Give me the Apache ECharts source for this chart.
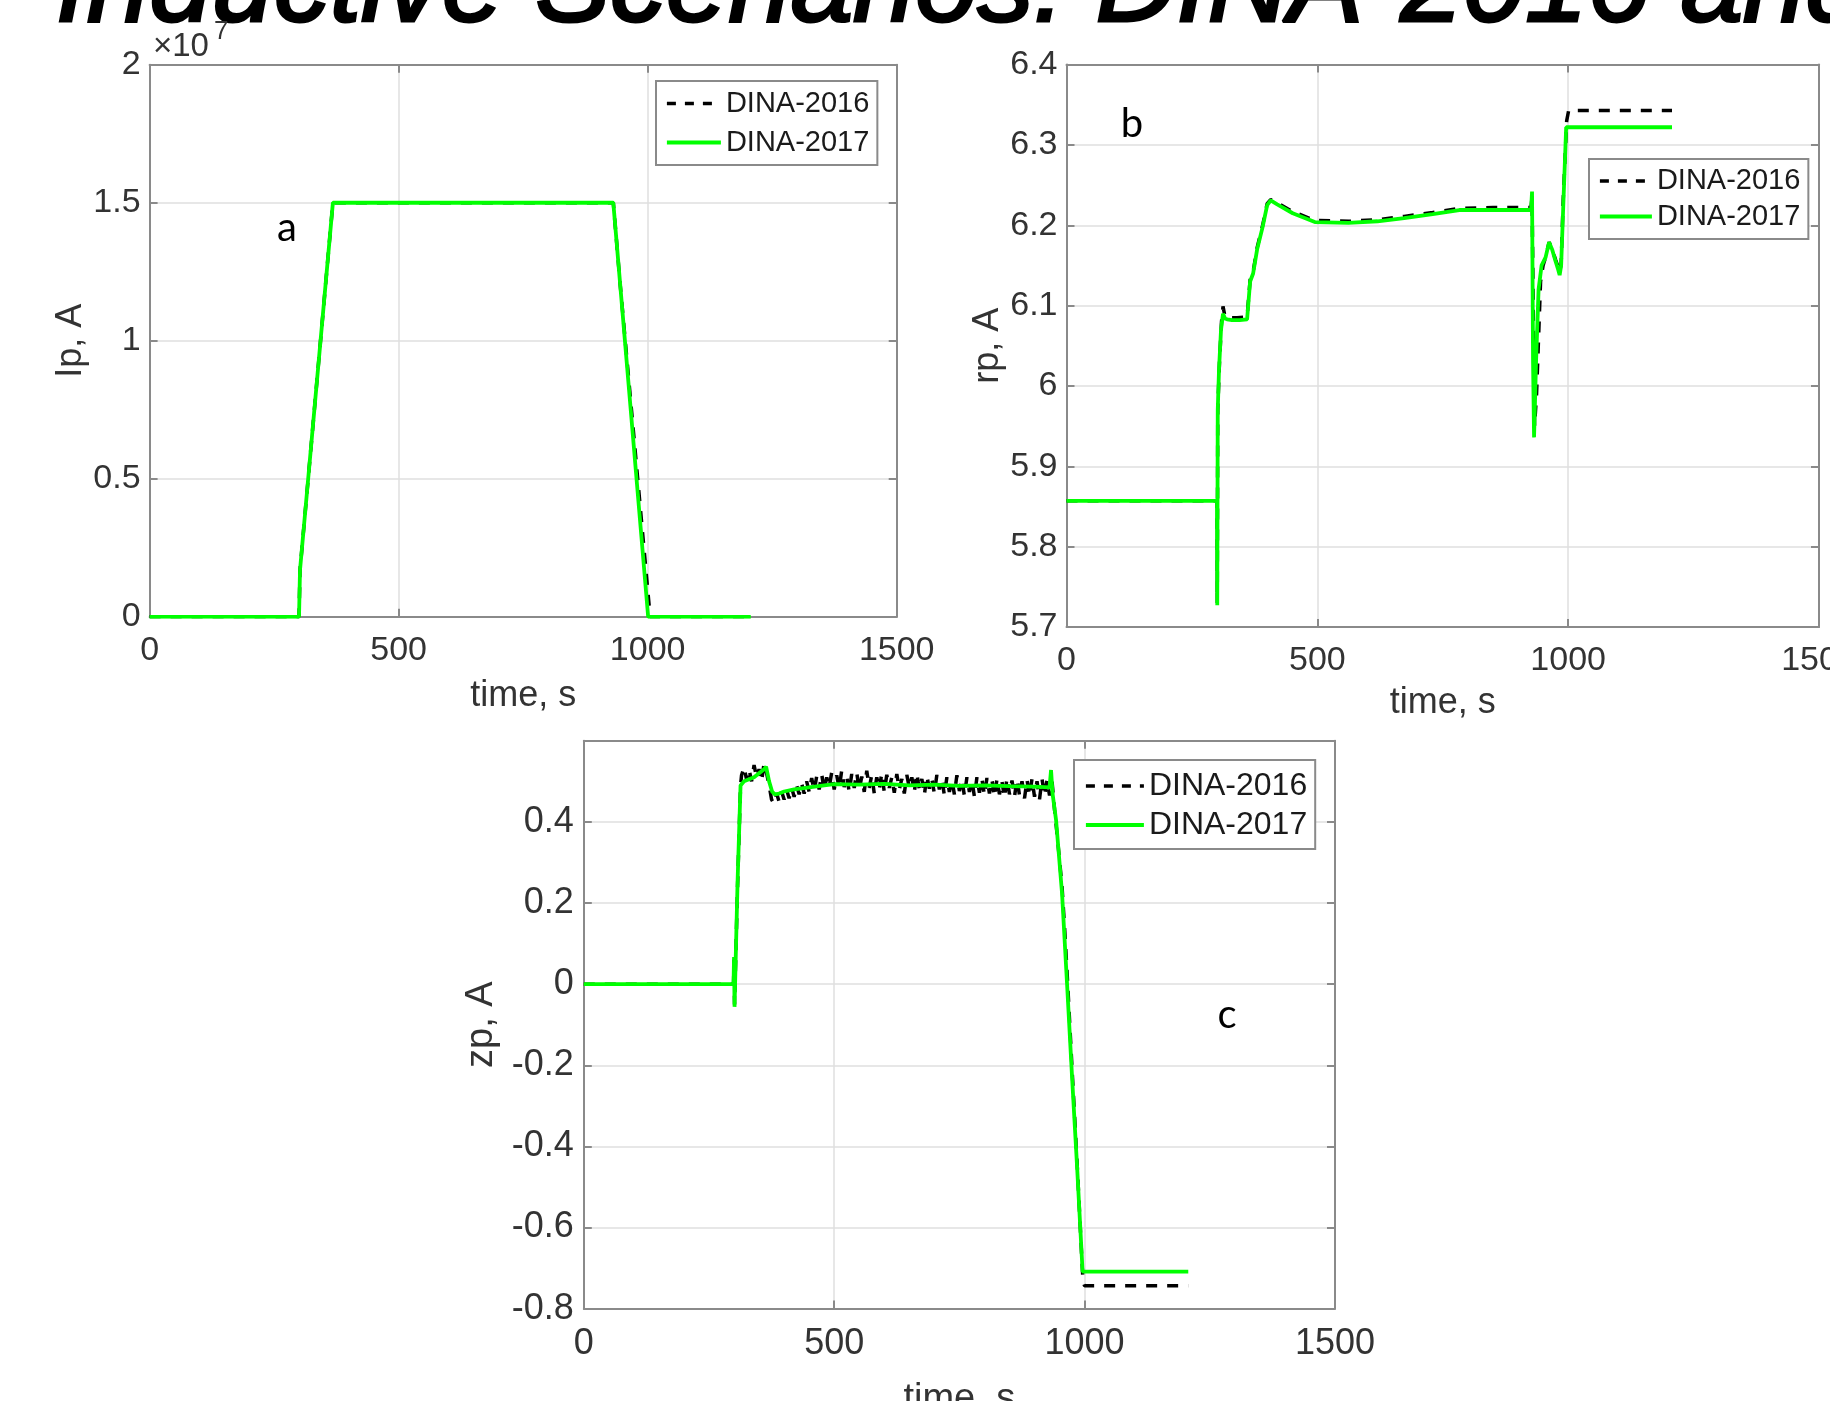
<!DOCTYPE html>
<html>
<head>
<meta charset="utf-8">
<script src="https://cdn.jsdelivr.net/npm/echarts@6/dist/echarts.min.js"></script>
<style>
  html, body { margin: 0; padding: 0; background: #fff; }
  #chart { width: 1830px; height: 1401px; }
</style>
</head>
<body>
<div id="chart"></div>
<script>
// ---------- Data ----------
const seriesNames = ['DINA-2016', 'DINA-2017'];
const xTicks = [0, 500, 1000, 1500];

// Panel a: Ip, A
const tA2016 = [0, 300, 302, 368, 931, 945, 1005, 1207];
const ipA2016 = [0, 0, 0.17e7, 1.5e7, 1.5e7, 1.2e7, 0, 0];
const tA2017 = [0, 300, 302, 368, 931, 1001, 1207];
const ipA2017 = [0, 0, 0.17e7, 1.5e7, 1.5e7, 0, 0];

// Panel b: rp, A
const tB2016 = [0, 300, 300.5, 301.5, 305, 309, 312, 316, 320, 340, 360, 363, 366, 372, 380, 391, 400, 407, 420, 451, 495, 562, 620, 673, 730, 783, 850, 926, 928, 930, 933, 937, 941, 945, 950, 955, 962, 968, 975, 980, 983, 986, 990, 997, 1001, 1207];
const rpB2016 = [5.857, 5.857, 5.73, 5.97, 6.03, 6.08, 6.099, 6.086, 6.085, 6.085, 6.086, 6.088, 6.132, 6.142, 6.172, 6.2, 6.227, 6.232, 6.228, 6.217, 6.206, 6.205, 6.207, 6.211, 6.216, 6.221, 6.222, 6.222, 6.235, 6.12, 5.95, 5.99, 6.06, 6.13, 6.15, 6.16, 6.179, 6.17, 6.157, 6.148, 6.142, 6.152, 6.23, 6.33, 6.343, 6.343];
const tB2017 = [0, 300, 300.5, 301.5, 304, 308, 312, 316, 320, 330, 345, 360, 363, 366, 372, 380, 391, 400, 407, 420, 451, 495, 562, 620, 673, 730, 783, 850, 926, 928, 930, 932, 936, 941, 947, 955, 962, 968, 975, 980, 983, 986, 990, 996, 1207];
const rpB2017 = [5.857, 5.857, 5.727, 5.97, 6.02, 6.07, 6.09, 6.084, 6.083, 6.082, 6.082, 6.083, 6.085, 6.13, 6.14, 6.17, 6.198, 6.225, 6.231, 6.226, 6.215, 6.204, 6.203, 6.205, 6.209, 6.214, 6.219, 6.219, 6.219, 6.242, 6.03, 5.936, 6.03, 6.12, 6.15, 6.16, 6.179, 6.17, 6.155, 6.145, 6.138, 6.15, 6.22, 6.322, 6.322];

// Panel c: zp, A
const tC2016 = [0, 299, 300, 301, 307, 313,
  315, 320, 325, 330, 335, 340, 345, 350, 355, 360, 365, 370, 375, 380, 385, 390, 395, 400, 405, 410, 415, 420, 425, 430, 435, 440, 445, 450, 455, 460, 465, 470, 475, 480, 485, 490, 495, 500,
  505, 510, 515, 520, 525, 530, 535, 540, 545, 550, 555, 560, 565, 570, 575, 580, 585, 590, 595, 600, 605, 610, 615, 620, 625, 630, 635, 640, 645, 650, 655, 660, 665, 670, 675, 680, 685, 690, 695, 700,
  705, 710, 715, 720, 725, 730, 735, 740, 745, 750, 755, 760, 765, 770, 775, 780, 785, 790, 795, 800, 805, 810, 815, 820, 825, 830, 835, 840, 845, 850, 855, 860, 865, 870, 875, 880, 885, 890, 895, 900,
  905, 910, 915, 920, 925, 930, 935, 940, 945, 955, 960, 965, 975, 985, 995, 997, 1000, 1207];
const zpC2016 = [0, 0, 0.06, -0.05, 0.24, 0.49,
  0.515, 0.535, 0.505, 0.53, 0.50, 0.54, 0.51, 0.53, 0.50, 0.545, 0.52, 0.49, 0.455, 0.445, 0.47, 0.45, 0.475, 0.455, 0.48, 0.458, 0.485, 0.462, 0.49, 0.468, 0.495, 0.47, 0.5, 0.474, 0.508, 0.476, 0.512, 0.48, 0.518, 0.478, 0.51, 0.485, 0.522, 0.48,
  0.515, 0.482, 0.527, 0.486, 0.512, 0.474, 0.518, 0.484, 0.522, 0.478, 0.512, 0.474, 0.526, 0.484, 0.516, 0.47, 0.51, 0.48, 0.52, 0.474, 0.516, 0.484, 0.51, 0.472, 0.518, 0.48, 0.506, 0.47, 0.516, 0.484, 0.51, 0.474, 0.52, 0.48, 0.506, 0.466, 0.514, 0.482, 0.506, 0.47,
  0.516, 0.48, 0.508, 0.465, 0.51, 0.474, 0.504, 0.468, 0.515, 0.476, 0.506, 0.464, 0.51, 0.474, 0.503, 0.462, 0.51, 0.472, 0.506, 0.466, 0.508, 0.47, 0.504, 0.462, 0.506, 0.468, 0.5, 0.46, 0.508, 0.468, 0.502, 0.462, 0.506, 0.466, 0.5, 0.458, 0.504, 0.464, 0.506, 0.462,
  0.5, 0.456, 0.506, 0.464, 0.503, 0.465, 0.50, 0.43, 0.37, 0.24, 0.14, 0.03, -0.21, -0.44, -0.69, -0.735, -0.7435, -0.7435];
const tC2017 = [0, 299, 300, 301, 307, 313, 320, 330, 340, 350, 360, 364, 370, 376, 381, 390, 400, 420, 450, 480, 500, 550, 600, 650, 700, 750, 800, 850, 900, 930, 933, 936, 943, 955, 965, 975, 985, 996, 1207];
const zpC2017 = [0, 0, 0.067, -0.056, 0.25, 0.49, 0.50, 0.505, 0.51, 0.52, 0.53, 0.536, 0.50, 0.475, 0.468, 0.47, 0.475, 0.48, 0.485, 0.49, 0.493, 0.492, 0.494, 0.49, 0.492, 0.489, 0.49, 0.488, 0.487, 0.485, 0.528, 0.47, 0.405, 0.223, 0.0, -0.23, -0.45, -0.709, -0.709];

// ---------- Helpers ----------
const FONT = '"Liberation Sans", Arial, Helvetica, sans-serif';
const zip = (t, v) => t.map((x, i) => [x, v[i]]);
const AXIS_C = '#8a8a8a';
const TXT_C = '#333333';

const grids = [
  { left: 149.6, top: 64.7, width: 747.1, height: 552.1 },
  { left: 1066.5, top: 64.6, width: 752.5, height: 562.4 },
  { left: 583.8, top: 740.8, width: 751.2, height: 567.8 }
];

const panelCfg = [
  { yMin: 0, yMax: 2e7, yInt: 0.5e7, yName: 'Ip, A', yNameGap: 59, xNameGap: 61, fs: 34, nfs: 36,
    yFmt: v => String(+(v / 1e7).toFixed(2)), xMargin: 17, yMargin: 9 },
  { yMin: 5.7, yMax: 6.4, yInt: 0.1, yName: 'rp, A', yNameGap: 60, xNameGap: 58, fs: 34, nfs: 36,
    yFmt: v => String(+v.toFixed(2)), xMargin: 17, yMargin: 9 },
  { yMin: -0.8, yMax: 0.6, yInt: 0.2, yName: 'zp, A', yNameGap: 83, xNameGap: 72, fs: 36, nfs: 38,
    yFmt: v => (Math.abs(v - 0.6) < 1e-9 ? '' : String(+v.toFixed(2))), xMargin: 17, yMargin: 10 }
];

const xAxes = [], yAxes = [];
panelCfg.forEach((p, i) => {
  const line = { show: true, onZero: false, lineStyle: { color: AXIS_C, width: 2 } };
  const tick = { show: true, inside: true, length: 8, lineStyle: { color: AXIS_C, width: 2 } };
  const split = { show: true, lineStyle: { color: '#dfdfdf', width: 1.5 } };
  xAxes.push({
    type: 'value', gridIndex: i, position: 'bottom', min: 0, max: 1500, interval: 500,
    axisLine: line, axisTick: tick, splitLine: split,
    axisLabel: { fontSize: p.fs, color: TXT_C, fontFamily: FONT, margin: p.xMargin, showMinLabel: true, showMaxLabel: true,
      formatter: v => String(v) },
    name: 'time, s', nameLocation: 'middle', nameGap: p.xNameGap,
    nameTextStyle: { fontSize: p.nfs, color: TXT_C, fontFamily: FONT }
  });
  xAxes.push({
    type: 'value', gridIndex: i, position: 'top', min: 0, max: 1500, interval: 500,
    axisLine: line, axisTick: tick, splitLine: { show: false }, axisLabel: { show: false }
  });
  yAxes.push({
    type: 'value', gridIndex: i, position: 'left', min: p.yMin, max: p.yMax, interval: p.yInt,
    axisLine: line, axisTick: tick, splitLine: split,
    axisLabel: { fontSize: p.fs, color: TXT_C, fontFamily: FONT, margin: p.yMargin, showMinLabel: true, showMaxLabel: true,
      padding: [5, 0, 0, 0], formatter: p.yFmt },
    name: p.yName, nameLocation: 'middle', nameGap: p.yNameGap,
    nameTextStyle: { fontSize: p.nfs, color: TXT_C, fontFamily: FONT }
  });
  yAxes.push({
    type: 'value', gridIndex: i, position: 'right', min: p.yMin, max: p.yMax, interval: p.yInt,
    axisLine: line, axisTick: tick, splitLine: { show: false }, axisLabel: { show: false }
  });
});

const dashStyle = { color: '#000', width: 3.5, type: [11, 10] };
const greenStyle = { color: '#00ff00', width: 3.8, type: 'solid' };
const mk = (name, i, data, style) => ({
  name, type: 'line', xAxisIndex: 2 * i, yAxisIndex: 2 * i, data,
  symbol: 'none', showSymbol: false, animation: false, clip: true,
  itemStyle: { color: style.color }, color: style.color,
  lineStyle: style, emphasis: { disabled: true }
});

const series = [
  mk(seriesNames[0], 0, zip(tA2016, ipA2016), dashStyle),
  mk(seriesNames[1], 0, zip(tA2017, ipA2017), greenStyle),
  mk(seriesNames[0], 1, zip(tB2016, rpB2016), dashStyle),
  mk(seriesNames[1], 1, zip(tB2017, rpB2017), greenStyle),
  mk(seriesNames[0], 2, zip(tC2016, zpC2016), dashStyle),
  mk(seriesNames[1], 2, zip(tC2017, zpC2017), greenStyle)
];

const legendBase = (left, top, fs, itemW, gap, pad) => ({
  left, top, orient: 'vertical', selectedMode: false,
  data: [
    { name: seriesNames[0], itemStyle: { opacity: 0 }, lineStyle: { color: '#000', width: 3.5, type: [9, 9] } },
    { name: seriesNames[1], itemStyle: { opacity: 0 }, lineStyle: { color: '#00ff00', width: 3.8, type: 'solid' } }
  ],
  itemWidth: itemW, itemHeight: 14, itemGap: gap, padding: pad,
  itemStyle: { opacity: 0 },
  borderColor: AXIS_C, borderWidth: 2, backgroundColor: '#fff', borderRadius: 0,
  textStyle: { fontSize: fs, color: '#1a1a1a', fontFamily: FONT, lineHeight: fs }
});

const option = {
  backgroundColor: '#fff',
  animation: false,
  grid: grids.map(g => Object.assign({ containLabel: false, outerBoundsMode: 'none' }, g)),
  xAxis: xAxes,
  yAxis: yAxes,
  legend: [
    legendBase(656, 81, 29, 54, 10, [8, 8, 8, 9]),
    legendBase(1589, 159, 29, 52, 6.5, [7.5, 8, 8, 9]),
    legendBase(1074, 760, 32, 58, 7, [10, 8, 8, 10])
  ],
  series,
  graphic: [
    { type: 'text', x: 56, y: -10, silent: true,
      style: { text: 'Inductive Scenarios: DINA-2016 and', fontSize: 112, fontStyle: 'italic', fontFamily: FONT,
        fill: '#000', stroke: '#000', lineWidth: 3, align: 'left', verticalAlign: 'middle' } },
    { type: 'text', x: 153, y: 47, silent: true,
      style: { text: '×10', fontSize: 33, fontFamily: FONT, fill: TXT_C, align: 'left', verticalAlign: 'middle' } },
    { type: 'text', x: 214, y: 32, silent: true,
      style: { text: '7', fontSize: 26, fontFamily: FONT, fill: TXT_C, align: 'left', verticalAlign: 'middle' } },
    { type: 'text', x: 287, y: 228, silent: true,
      style: { text: 'a', fontSize: 40, fontFamily: 'Lato, "Open Sans", sans-serif', fill: '#000', align: 'center', verticalAlign: 'middle' } },
    { type: 'text', x: 1132, y: 124, silent: true,
      style: { text: 'b', fontSize: 40, fontFamily: 'Lato, "Open Sans", sans-serif', fill: '#000', align: 'center', verticalAlign: 'middle' } },
    { type: 'text', x: 1227, y: 1015, silent: true,
      style: { text: 'c', fontSize: 40, fontFamily: 'Lato, "Open Sans", sans-serif', fill: '#000', align: 'center', verticalAlign: 'middle' } }
  ]
};

const chart = echarts.init(document.getElementById('chart'), null, { renderer: 'canvas' });
chart.setOption(option);
</script>
</body>
</html>
